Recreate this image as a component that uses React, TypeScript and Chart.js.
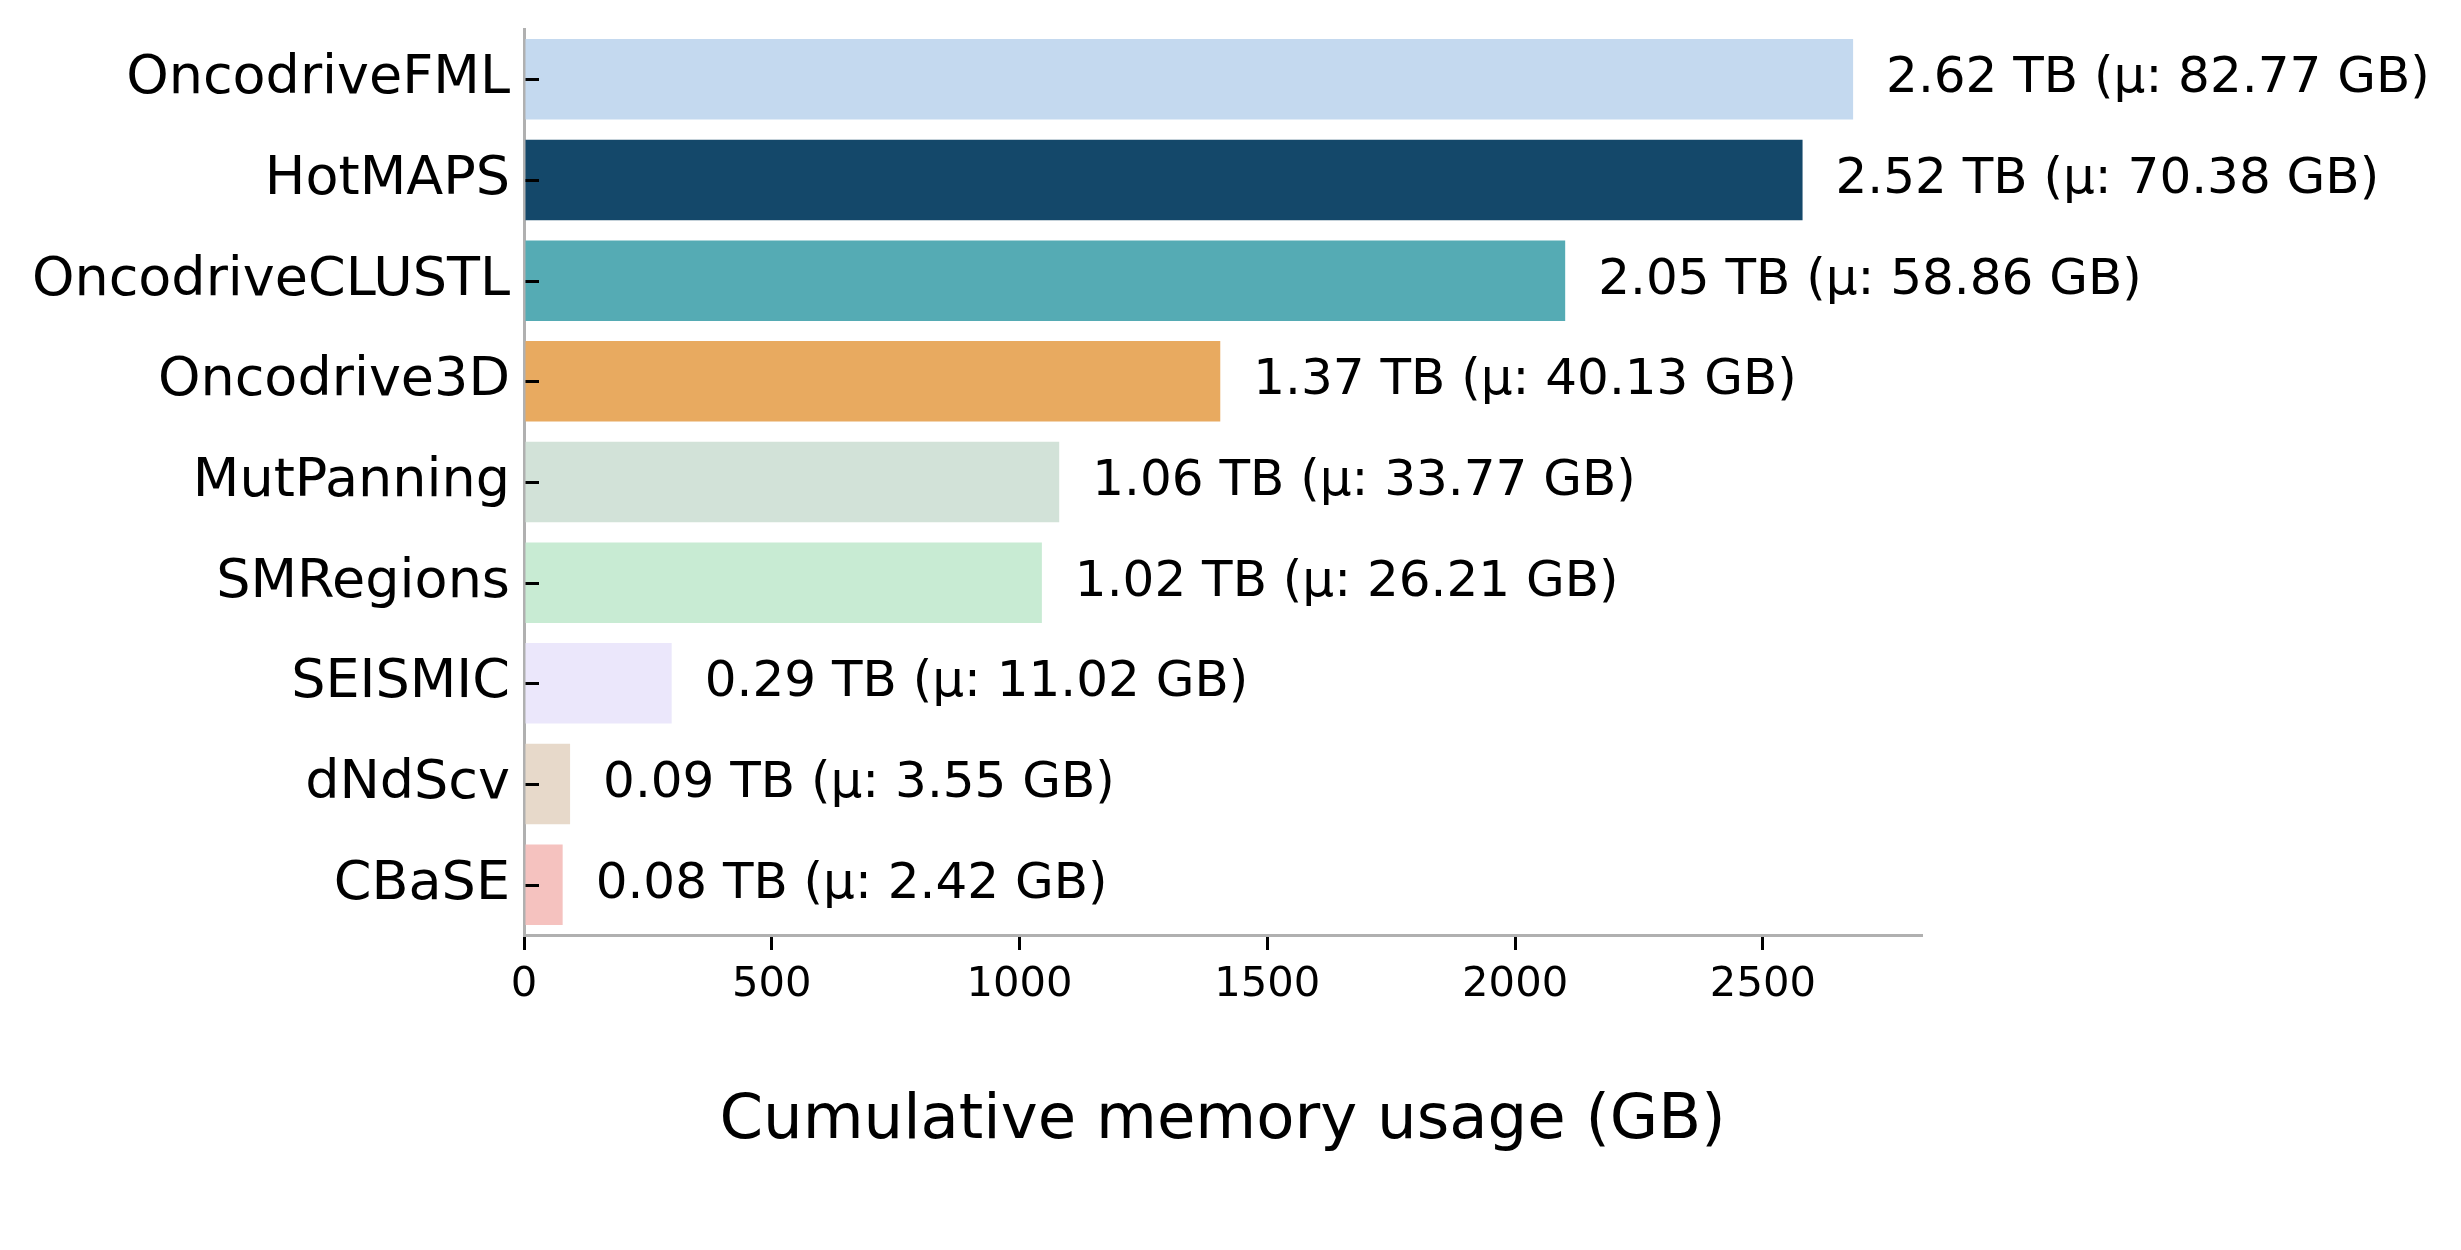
import React, { useEffect, useRef } from "react";
import { Chart, registerables } from "chart.js";

Chart.register(...registerables);

const tools = [
  "OncodriveFML",
  "HotMAPS",
  "OncodriveCLUSTL",
  "Oncodrive3D",
  "MutPanning",
  "SMRegions",
  "SEISMIC",
  "dNdScv",
  "CBaSE",
];
const memoryGB = [2682, 2580, 2101, 1405, 1080, 1045, 298, 93, 78];
const totalTB = [2.62, 2.52, 2.05, 1.37, 1.06, 1.02, 0.29, 0.09, 0.08];
const meanGB = [82.77, 70.38, 58.86, 40.13, 33.77, 26.21, 11.02, 3.55, 2.42];
const barColors = [
  "#c4d9ef",
  "#14486a",
  "#55abb4",
  "#e8aa60",
  "#d2e2d8",
  "#c8ebd3",
  "#ebe7fb",
  "#e7d9ca",
  "#f5c2bf",
];
const xTicks = [0, 500, 1000, 1500, 2000, 2500];
const xMax = 2819;
const xTitle = "Cumulative memory usage (GB)";

const FONT = "'DejaVu Sans', 'Liberation Sans', sans-serif";

const valueLabelPlugin = {
  id: "valueLabels",
  afterDatasetsDraw(chart: any) {
    const ctx = chart.ctx;
    const meta = chart.getDatasetMeta(0);
    const xs = chart.scales.x;
    ctx.save();
    ctx.font = `50px ${FONT}`;
    ctx.fillStyle = "#000";
    ctx.textAlign = "left";
    ctx.textBaseline = "middle";
    meta.data.forEach((bar: any, i: number) => {
      const x = xs.getPixelForValue(memoryGB[i]) + 33;
      const text = `${totalTB[i].toFixed(2)} TB (μ: ${meanGB[i].toFixed(2)} GB)`;
      ctx.fillText(text, x, bar.y);
    });
    ctx.restore();
  },
};

const innerYTicksPlugin = {
  id: "innerYTicks",
  afterDraw(chart: any) {
    const ctx = chart.ctx;
    const ys = chart.scales.y;
    const left = chart.chartArea.left;
    ctx.save();
    ctx.strokeStyle = "#000";
    ctx.lineWidth = 3;
    ys.ticks.forEach((_t: any, i: number) => {
      const y = Math.round(ys.getPixelForTick(i)) + 0.5;
      ctx.beginPath();
      ctx.moveTo(left + 1.5, y);
      ctx.lineTo(left + 15, y);
      ctx.stroke();
    });
    ctx.restore();
  },
};

export default function App() {
  const canvasRef = useRef<HTMLCanvasElement | null>(null);

  useEffect(() => {
    if (!canvasRef.current) return;
    const chart = new Chart(canvasRef.current, {
      type: "bar",
      data: {
        labels: tools,
        datasets: [
          {
            data: memoryGB,
            backgroundColor: barColors,
            borderWidth: 0,
            barPercentage: 0.8,
            categoryPercentage: 1.0,
          },
        ],
      },
      options: {
        indexAxis: "y",
        animation: false,
        responsive: false,
        devicePixelRatio: 1,
        layout: { padding: { left: 0, right: 540, top: 29, bottom: 0 } },
        plugins: {
          legend: { display: false },
          tooltip: { enabled: false },
        },
        scales: {
          x: {
            type: "linear",
            min: 0,
            max: xMax,
            z: 1,
            afterFit(scale: any) {
              scale.height = 315;
              scale.paddingLeft = 0;
              scale.paddingRight = 0;
            },
            afterBuildTicks(scale: any) {
              scale.ticks = xTicks.map((v) => ({ value: v }));
            },
            grid: {
              display: true,
              drawOnChartArea: false,
              drawTicks: true,
              tickLength: 15,
              color: "#000",
              lineWidth: 3,
            },
            border: { display: true, color: "#b0b0b0", width: 3 },
            ticks: {
              color: "#000",
              padding: 10,
              font: { family: FONT, size: 41.7 },
              callback: (v: any) => String(v),
            },
            title: {
              display: true,
              text: xTitle,
              color: "#000",
              font: { family: FONT, size: 62.5 },
              padding: { top: 0, bottom: 91 },
            },
          },
          y: {
            type: "category",
            offset: true,
            z: 1,
            afterFit(scale: any) {
              scale.width = 524;
              scale.paddingTop = 0;
              scale.paddingBottom = 0;
            },
            grid: { display: false, drawTicks: false },
            border: { display: true, color: "#b0b0b0", width: 3 },
            ticks: {
              color: "#000",
              padding: 14,
              font: { family: FONT, size: 54 },
            },
          },
        },
      },
      plugins: [valueLabelPlugin, innerYTicksPlugin],
    });
    return () => chart.destroy();
  }, []);

  return (
    <div
      style={{
        position: "fixed",
        left: 0,
        top: 0,
        width: 2461,
        height: 1250,
        background: "#fff",
      }}
    >
      <canvas
        ref={canvasRef}
        width={2461}
        height={1250}
        style={{ display: "block", width: 2461, height: 1250 }}
      />
    </div>
  );
}
